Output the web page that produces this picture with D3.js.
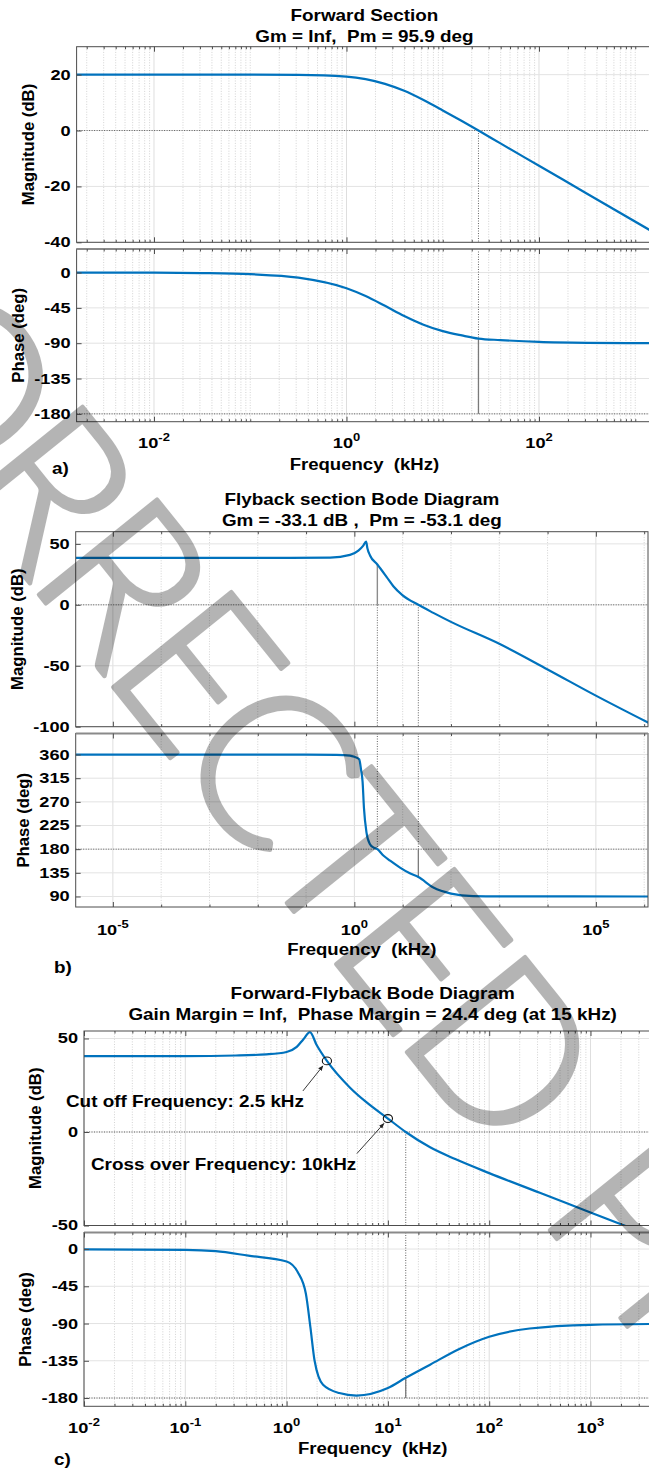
<!DOCTYPE html>
<html>
<head>
<meta charset="utf-8">
<script src="https://cdn.jsdelivr.net/npm/d3@7"></script>
<style>
  html, body { margin: 0; padding: 0; background: #fff; }
  svg { display: block; }
</style>
</head>
<body>
<svg id="fig" width="649" height="1468"></svg>
<script>
// ---------------- Forward section (frequency in kHz) ----------------
const fwdFreq  = [0.00157, 0.01, 0.0316, 0.1, 0.316, 1, 1.58, 2.51, 3.98, 6.31, 10, 15.8, 23.5, 39.8, 100, 316, 1585];
const fwdMag   = [20, 20, 20, 19.99, 19.93, 19.3, 18.4, 16.7, 14.2, 10.9, 7.2, 3.4, 0, -4.6, -12.6, -22.6, -36.6];
const fwdPhase = [-0.03, -0.2, -0.66, -2.1, -6.5, -20, -29.9, -42.4, -55.3, -66.4, -74.6, -80.1, -84.1, -86.0, -88.4, -89.5, -89.9];
const fwdMagTicks   = [-40, -20, 0, 20];
const fwdPhaseTicks = [-180, -135, -90, -45, 0];
const fwdFreqTicks  = [1e-2, 1, 1e2];
const fwdWcg = 23.5, fwdPm = 95.9;
const fwdTitle = ["Forward Section", "Gm = Inf,  Pm = 95.9 deg"];

// ---------------- Flyback section ----------------
const flyMagFreq = [1.7e-6, 0.01, 0.316, 0.813, 1.21, 1.53, 1.75, 1.86, 2.11, 2.99, 4.67, 6.41, 10, 21.1, 43.2, 100, 1000, 1e4, 1e5, 1.26e6];
const flyMag     = [38.5, 38.5, 38.8, 41, 44.5, 48.6, 51.9, 46.5, 40.5, 33.1, 22.8, 15.3, 7.8, 0, -6.6, -14, -32, -53, -74.5, -97];
const flyPhFreq  = [1.7e-6, 0.1, 0.427, 0.813, 1.0, 1.26, 1.38, 1.48, 1.58, 1.78, 2.09, 2.51, 2.99, 3.98, 5.5, 8.81, 14.1, 21.1, 43.2, 100, 288, 1000, 1.26e6];
const flyPhase   = [360, 359.8, 359.5, 358, 355.6, 351, 330, 308, 258, 212, 190, 183, 180, 168, 158, 145, 134, 126.9, 107, 95.5, 90.6, 90.1, 90];
const flyMagTicks   = [-100, -50, 0, 50];
const flyPhaseTicks = [90, 135, 180, 225, 270, 315, 360];
const flyFreqTicks  = [1e-5, 1, 1e5];
const flyWcp = 2.99, flyGm = -33.1, flyWcg = 21.1, flyPm = -53.1;
const flyTitle = ["Flyback section Bode Diagram", "Gm = -33.1 dB ,  Pm = -53.1 deg"];

// ---------------- Forward-Flyback loop ----------------
const ffMagFreq = [0.01, 0.1, 0.316, 0.631, 1, 1.26, 1.46, 1.70, 1.98, 2.5, 4.23, 6.17, 10, 15, 26.1, 46.2, 100, 316, 1000, 3162];
const ffMag     = [40.6, 40.6, 40.9, 41.5, 42.8, 45.5, 49.5, 53.4, 46.5, 38, 23.7, 15.8, 7.2, 0, -8.2, -14.5, -22, -32.5, -43, -53.5];
const ffPhFreq  = [0.01, 0.1, 0.2, 0.419, 1, 1.29, 1.55, 1.72, 1.89, 2.29, 3.31, 4.9, 10, 15, 26.1, 50.1, 100, 251, 1000, 10000];
const ffPhase   = [-0.5, -1, -2.6, -8, -15, -28, -54, -95, -135, -164, -174, -177, -168, -155.6, -139.7, -121, -106, -96, -91.5, -90.2];
const ffMagTicks   = [-50, 0, 50];
const ffPhaseTicks = [-180, -135, -90, -45, 0];
const ffFreqTicks  = [1e-2, 1e-1, 1, 1e1, 1e2, 1e3];
const ffWcg = 15, ffPm = 24.4;
const ffTitle = ["Forward-Flyback Bode Diagram", "Gain Margin = Inf,  Phase Margin = 24.4 deg (at 15 kHz)"];
const ffNoteFreq = [2.5, 10];
const ffNoteMag  = [38, 7.2];
const ffNoteText = ["Cut off Frequency: 2.5 kHz", "Cross over Frequency: 10kHz"];

// ---------------- drawing ----------------
const svg = d3.select("#fig");
const BLUE = "#0072bd";
const FONT = "'Liberation Sans', Arial, Helvetica, sans-serif";
const SX = 1.18;   // horizontal widening of titles / labels
const SXT = 1.3;   // horizontal widening of tick labels
const FRAME = "#4d4d4d";

function htext(parent, x, y, str, o = {}) {
  const g = parent.append("g").attr("transform", `translate(${x},${y}) scale(${o.sx ?? SX},1)`);
  return g.append("text")
    .attr("text-anchor", o.anchor ?? "middle")
    .attr("font-family", FONT).attr("font-weight", "bold")
    .attr("font-size", o.size ?? 16).attr("fill", "#000")
    .style("white-space", "pre").text(str);
}

function logGrid(domain, everyDigit) {
  const lo = Math.floor(Math.log10(domain[0])), hi = Math.ceil(Math.log10(domain[1]));
  const out = [];
  for (let e = lo; e <= hi; e++) {
    for (const k of (everyDigit ? [1, 2, 3, 4, 5, 6, 7, 8, 9] : [1])) {
      const v = k * Math.pow(10, e);
      if (v >= domain[0] && v <= domain[1]) out.push(v);
    }
  }
  return out;
}

function drawGrid(g, x, y, yr, yTicks, majorX, minorX) {
  const [top, bottom] = yr, [left, right] = x.range();
  g.append("g").selectAll("line").data(minorX).join("line")
    .attr("x1", d => x(d)).attr("x2", d => x(d)).attr("y1", top).attr("y2", bottom)
    .attr("stroke", "#c8c8c8").attr("stroke-width", 0.8).attr("stroke-dasharray", "1,1.6");
  g.append("g").selectAll("line").data(majorX).join("line")
    .attr("x1", d => x(d)).attr("x2", d => x(d)).attr("y1", top).attr("y2", bottom)
    .attr("stroke", "#dedede").attr("stroke-width", 1);
  g.append("g").selectAll("line").data(yTicks).join("line")
    .attr("x1", left).attr("x2", right).attr("y1", d => y(d)).attr("y2", d => y(d))
    .attr("stroke", "#e3e3e3").attr("stroke-width", 1);
}

function drawFrame(g, x, y, yr, yTicks, majorX, minorX, isPhase) {
  const [top, bottom] = yr, [left, right] = x.range();
  g.append("rect").attr("x", left).attr("y", top).attr("width", right - left).attr("height", bottom - top)
    .attr("fill", "none").attr("stroke", FRAME).attr("stroke-width", 1);
  if (isPhase) {
    g.append("line").attr("x1", left).attr("x2", right).attr("y1", top).attr("y2", top)
      .attr("stroke", "#8a8a8a").attr("stroke-width", 1.8);
  }
  const tidy = s => { s.select(".domain").remove(); s.selectAll("line").attr("stroke", FRAME); };
  g.append("g").attr("transform", `translate(0,${bottom})`)
    .call(d3.axisBottom(x).tickValues(majorX).tickSize(-5).tickFormat("")).call(tidy);
  g.append("g").attr("transform", `translate(0,${bottom})`)
    .call(d3.axisBottom(x).tickValues(minorX).tickSize(-2.5).tickFormat("")).call(tidy);
  g.append("g").attr("transform", `translate(0,${top})`)
    .call(d3.axisTop(x).tickValues(majorX).tickSize(-5).tickFormat("")).call(tidy);
  g.append("g").attr("transform", `translate(0,${top})`)
    .call(d3.axisTop(x).tickValues(minorX).tickSize(-2.5).tickFormat("")).call(tidy);
  const ya = g.append("g").attr("transform", `translate(${left},0)`)
    .call(d3.axisLeft(y).tickValues(yTicks).tickSize(-5).tickPadding(6).tickFormat(d => String(d)))
    .call(tidy);
  ya.selectAll("text")
    .attr("font-family", FONT).attr("font-weight", "bold").attr("font-size", 14).attr("fill", "#000")
    .each(function () {
      const t = d3.select(this);
      t.attr("x", +t.attr("x") / SXT).attr("transform", `scale(${SXT},1)`);
    });
  // leftmost extent of the tick labels, used to place the axis title
  return d3.min(ya.selectAll("text").nodes(), n => n.getBoundingClientRect().left);
}

function ylabel(minX, top, bottom, str) {
  svg.append("text")
    .attr("transform", `translate(${minX - 10.5},${(top + bottom) / 2}) rotate(-90)`)
    .attr("text-anchor", "middle").attr("font-family", FONT).attr("font-weight", "bold")
    .attr("font-size", 16.7).attr("fill", "#000").text(str);
}

const dotted = sel => sel.attr("stroke", "#3c3c3c").attr("stroke-width", 0.8).attr("stroke-dasharray", "1,1.5");

function drawPanel(p) {
  const x  = d3.scaleLog().domain(p.xDomain).range([p.left, p.right]);
  const yM = d3.scaleLinear().domain(p.magDomain).range([p.mag[1], p.mag[0]]);
  const yP = d3.scaleLinear().domain(p.phDomain).range([p.ph[1], p.ph[0]]);
  const isMajor = v => p.freqTicks.some(m => Math.abs(Math.log10(m) - Math.log10(v)) < 1e-6);
  const minorX = logGrid(p.xDomain, p.minorDigits).filter(v => !isMajor(v));
  const [left, right] = x.range();

  const g = svg.append("g");
  [["m", p.mag], ["p", p.ph]].forEach(([k, yr]) => {
    g.append("clipPath").attr("id", `clip-${p.key}${k}`).append("rect")
      .attr("x", left).attr("y", yr[0]).attr("width", right - left).attr("height", yr[1] - yr[0]);
  });

  const gm = g.append("g"), gp = g.append("g");
  drawGrid(gm, x, yM, p.mag, p.magTicks, p.freqTicks, minorX);
  drawGrid(gp, x, yP, p.ph, p.phTicks, p.freqTicks, minorX);

  // margin guides
  gm.append("line").attr("x1", left).attr("x2", right).attr("y1", yM(0)).attr("y2", yM(0)).call(dotted);
  gp.append("line").attr("x1", left).attr("x2", right).attr("y1", yP(p.phRef)).attr("y2", yP(p.phRef)).call(dotted);
  const cross = [p.wcp, p.wcg].filter(v => v != null);
  cross.forEach(w => {
    gm.append("line").attr("x1", x(w)).attr("x2", x(w)).attr("y1", yM(0)).attr("y2", p.mag[1]).call(dotted);
    gp.append("line").attr("x1", x(w)).attr("x2", x(w)).attr("y1", p.ph[0]).attr("y2", yP(p.phRef)).call(dotted);
  });
  if (p.wcp != null) {
    gm.append("line").attr("x1", x(p.wcp)).attr("x2", x(p.wcp)).attr("y1", yM(0)).attr("y2", yM(-p.gm))
      .attr("stroke", "#8c8c8c").attr("stroke-width", 1.4);
  }
  gp.append("line").attr("x1", x(p.wcg)).attr("x2", x(p.wcg)).attr("y1", yP(p.phRef)).attr("y2", yP(p.phRef + p.pm))
    .attr("stroke", "#7a7a7a").attr("stroke-width", 1.3);

  // response curves
  const mk = ys => d3.line().x(d => x(d[0])).y(d => ys(d[1])).curve(d3.curveMonotoneX);
  gm.append("path").datum(d3.zip(p.magFreq, p.magVal)).attr("clip-path", `url(#clip-${p.key}m)`)
    .attr("d", mk(yM)).attr("fill", "none").attr("stroke", BLUE).attr("stroke-width", 2.2).attr("stroke-linejoin", "round");
  gp.append("path").datum(d3.zip(p.phFreq, p.phVal)).attr("clip-path", `url(#clip-${p.key}p)`)
    .attr("d", mk(yP)).attr("fill", "none").attr("stroke", BLUE).attr("stroke-width", 2.2).attr("stroke-linejoin", "round");

  const mMin = drawFrame(gm, x, yM, p.mag, p.magTicks, p.freqTicks, minorX, false);
  const pMin = drawFrame(gp, x, yP, p.ph, p.phTicks, p.freqTicks, minorX, true);
  ylabel(mMin, p.mag[0], p.mag[1], "Magnitude (dB)");
  ylabel(pMin, p.ph[0], p.ph[1], "Phase (deg)");

  // frequency tick labels under the phase plot
  p.freqTicks.forEach(v => {
    const e = Math.round(Math.log10(v));
    const tg = svg.append("g").attr("transform", `translate(${x(v)},${p.ph[1] + p.tickGap}) scale(${SXT},1)`);
    const t = tg.append("text").attr("text-anchor", "middle").attr("font-family", FONT)
      .attr("font-weight", "bold").attr("font-size", 14).attr("fill", "#000");
    t.append("tspan").text("10");
    t.append("tspan").attr("dy", -7).attr("font-size", 10).text(String(e));
  });

  const cx = (left + right) / 2;
  htext(svg, cx, p.titleY[0], p.title[0]);
  htext(svg, cx, p.titleY[1], p.title[1]);
  htext(svg, cx, p.ph[1] + 48, "Frequency  (kHz)", { sx: 1.16 });
  htext(svg, p.tagXY[0], p.tagXY[1], p.tag, { anchor: "start" });

  return { x, yM, yP };
}

const panels = [
  { key: "a", title: fwdTitle, titleY: [20.7, 41.7], left: 76.6, right: 652.2, xDomain: [0.00157, 1500],
    mag: [46.7, 242.3], magDomain: [-40, 30], ph: [249, 421.7], phDomain: [-190, 30],
    magTicks: fwdMagTicks, phTicks: fwdPhaseTicks, freqTicks: fwdFreqTicks, minorDigits: true,
    magFreq: fwdFreq, magVal: fwdMag, phFreq: fwdFreq, phVal: fwdPhase,
    phRef: -180, wcp: null, gm: null, wcg: fwdWcg, pm: fwdPm,
    tickGap: 26.5, tag: "a)", tagXY: [52, 474] },
  { key: "b", title: flyTitle, titleY: [505, 525.5], left: 75.7, right: 648, xDomain: [1.7e-6, 1.2e6],
    mag: [531.7, 726.7], magDomain: [-100, 60], ph: [733.5, 907], phDomain: [70, 400],
    magTicks: flyMagTicks, phTicks: flyPhaseTicks, freqTicks: flyFreqTicks, minorDigits: false,
    magFreq: flyMagFreq, magVal: flyMag, phFreq: flyPhFreq, phVal: flyPhase,
    phRef: 180, wcp: flyWcp, gm: flyGm, wcg: flyWcg, pm: flyPm,
    tickGap: 28, tag: "b)", tagXY: [54, 973] },
  { key: "c", title: ffTitle, titleY: [998.5, 1020], left: 84, right: 661.3, xDomain: [0.01, 5000],
    mag: [1031, 1225.5], magDomain: [-50, 54], ph: [1232.5, 1406.3], phDomain: [-190, 20],
    magTicks: ffMagTicks, phTicks: ffPhaseTicks, freqTicks: ffFreqTicks, minorDigits: true,
    magFreq: ffMagFreq, magVal: ffMag, phFreq: ffPhFreq, phVal: ffPhase,
    phRef: -180, wcp: null, gm: null, wcg: ffWcg, pm: ffPm,
    tickGap: 26.7, tag: "c)", tagXY: [54, 1465] }
];

const scales = panels.map(drawPanel);

// annotations on the loop magnitude plot
(function () {
  const { x, yM } = scales[2];
  const defs = svg.append("defs");
  defs.append("marker").attr("id", "arrow").attr("viewBox", "0 0 10 10").attr("refX", 9).attr("refY", 5)
    .attr("markerWidth", 6).attr("markerHeight", 6).attr("orient", "auto-start-reverse")
    .append("path").attr("d", "M0,1 L10,5 L0,9 z").attr("fill", "#222");
  const tails = [[-24, 30], [-31, 35]];
  const textPos = [[66, 1106.7], [91, 1170]];
  const ann = svg.append("g");
  ffNoteFreq.forEach((f, i) => {
    const px = x(f), py = yM(ffNoteMag[i]);
    ann.append("line").attr("x1", px + tails[i][0]).attr("y1", py + tails[i][1])
      .attr("x2", px - 4).attr("y2", py + 5)
      .attr("stroke", "#222").attr("stroke-width", 0.9).attr("marker-end", "url(#arrow)");
    ann.append("ellipse").attr("cx", px).attr("cy", py).attr("rx", 4.6).attr("ry", 3.9)
      .attr("fill", "none").attr("stroke", "#111").attr("stroke-width", 1.1);
    htext(ann, textPos[i][0], textPos[i][1], ffNoteText[i], { anchor: "start" });
  });
})();

// diagonal "CORRECTED PROOF" overprint
(function () {
  const size = 214, angle = 51.2, wordGap = 30;
  const wm = svg.append("g").attr("pointer-events", "none").attr("opacity", 0.29);
  const t = wm.append("text")
    .attr("font-family", "Lato, 'Open Sans', Roboto, 'Liberation Sans', sans-serif")
    .attr("font-weight", 300).attr("font-size", size)
    .attr("fill", "#000").attr("stroke", "#000").attr("stroke-width", 4.5).attr("stroke-linejoin", "round")
    .style("white-space", "pre").text("CORRECTED PROOF");
  const node = t.node();
  const pre = node.getSubStringLength(0, 4);
  const span = node.getSubStringLength(4, 6);
  const ls = (697 - span - wordGap) / 6;
  t.attr("letter-spacing", ls).attr("word-spacing", wordGap);
  const rad = angle * Math.PI / 180;
  const s = pre + 4 * ls + 0.08 * size;
  const ox = 110 - s * Math.cos(rad), oy = 683 - s * Math.sin(rad);
  wm.attr("transform", `translate(${ox},${oy}) rotate(${angle})`);
})();
</script>
</body>
</html>
